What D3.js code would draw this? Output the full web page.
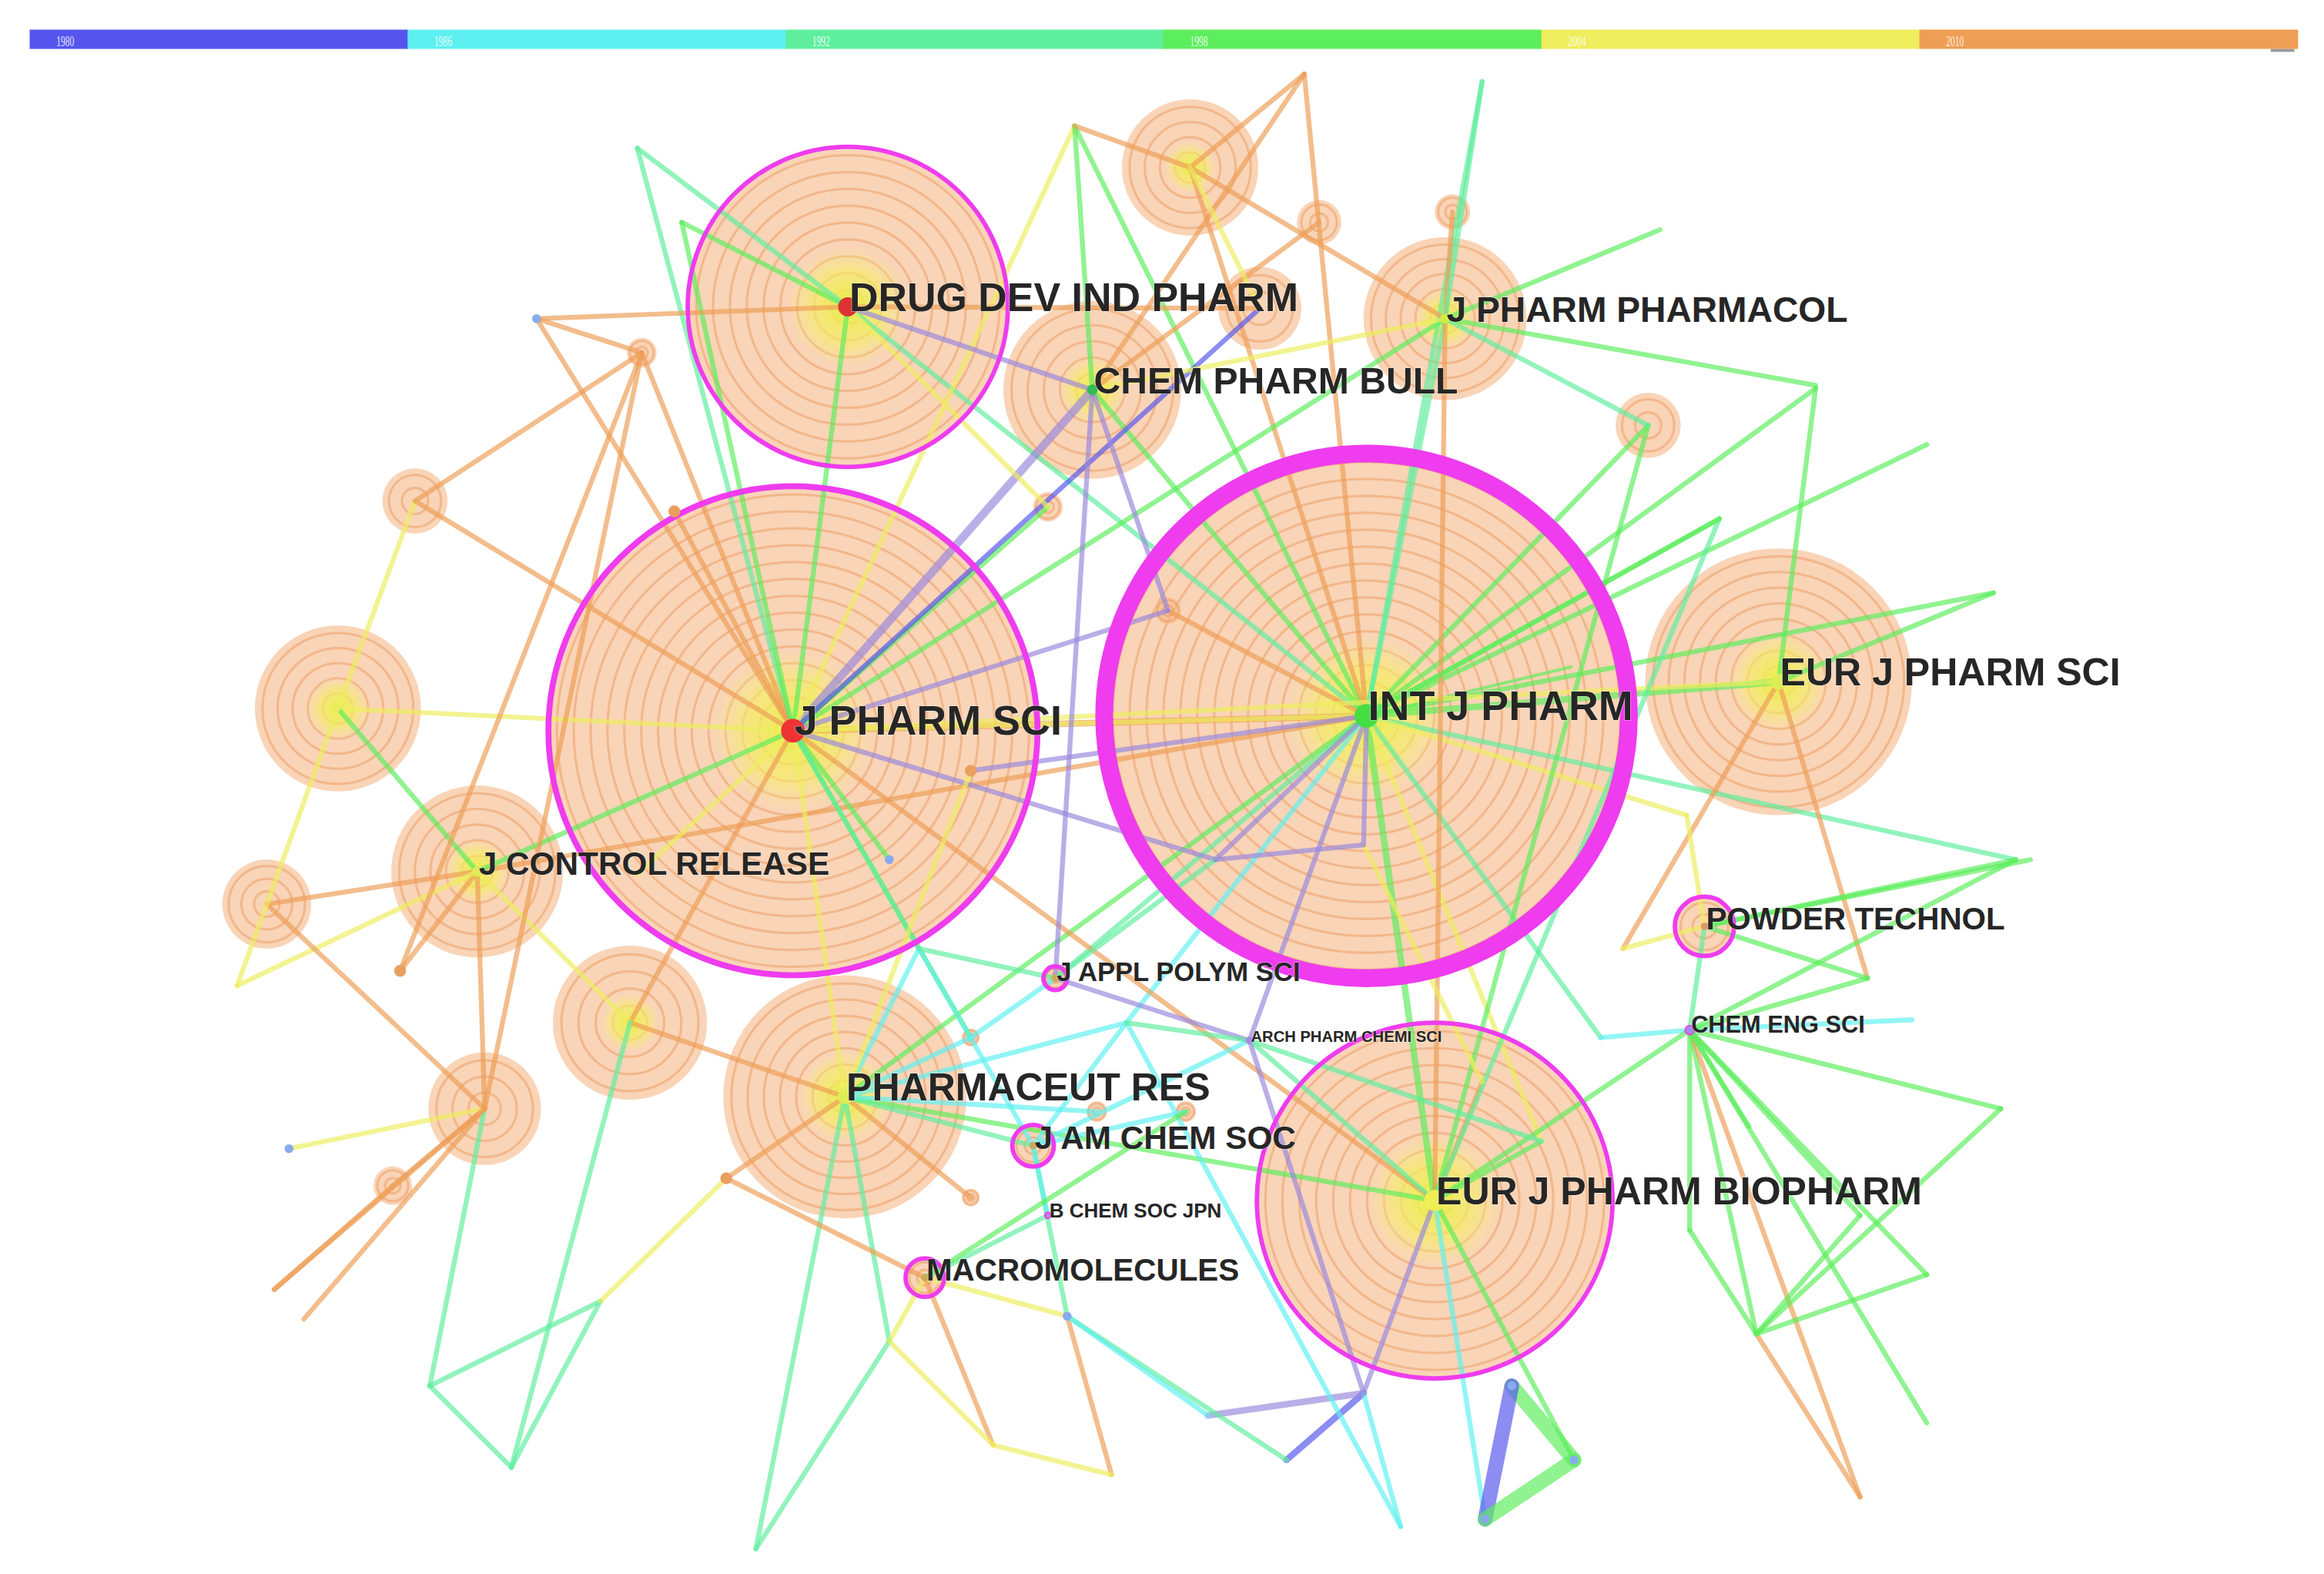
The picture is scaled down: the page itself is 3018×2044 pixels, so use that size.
<!DOCTYPE html>
<html><head><meta charset="utf-8">
<script src="https://cdn.jsdelivr.net/npm/d3@7"></script>
<style>body{margin:0;background:#fff}svg{display:block}</style>
</head><body><svg id="c" width="3018" height="2044"></svg>
<script>
const years=["1980","1986","1992","1998","2004","2010"];
const yearColors=["#5555ee","#5ef0f0","#5eee9e","#5cee5c","#eeee5e","#ee9e55"];
// labelled journals: [id,label,x,y,radius,ringWidth,fontSize,centerColor]
const journals=[
["DD","DRUG DEV IND PHARM",572,207,108,3,27,"#dd3333"],
["CP","CHEM PHARM BULL",737,263,60,0,25,"#33bb55"],
["JPP","J PHARM PHARMACOL",975,215,55,0,24,"#ccee44"],
["JPS","J PHARM SCI",535,493,165,4,28,"#ee3333"],
["IJP","INT J PHARM",922,483,177,12,28,"#44dd44"],
["EJPS","EUR J PHARM SCI",1200,460,90,0,26,"#ddee55"],
["JCR","J CONTROL RELEASE",322,588,58,0,22,"#ddee55"],
["PT","POWDER TECHNOL",1150,625,20,3,21,"#dd9966"],
["JAP","J APPL POLYM SCI",712,660,8,3,18,"#ccaa55"],
["CES","CHEM ENG SCI",1140,695,3,1,16,"#aa88ee"],
["APC","ARCH PHARM CHEMI SCI",843,702,2,0,10.5,"#aa88ee"],
["PR","PHARMACEUT RES",570,740,82,0,26,"#ddee55"],
["JAC","J AM CHEM SOC",697,773,14,3,22,"#ccaa55"],
["EJPB","EUR J PHARM BIOPHARM",968,810,120,3,26,"#eeee55"],
["BCS","B CHEM SOC JPN",707,820,2,1,13.5,"#aa88ee"],
["MAC","MACROMOLECULES",624,862,13,3,21,"#ccaa55"]];
// unlabelled nodes: [id,x,y,radius]
const others=[
["a1",430,100,0],["a2",725,85,0],["a3",880,50,0],["a4",1000,55,0],["a5",1120,155,0],["a6",1225,262,0],
["a7",1160,350,0],["a8",1345,400,0],["a9",1360,580,0],["a10",1350,748,0],["a11",1300,860,0],["a12",1255,820,0],
["a13",1185,900,0],["a14",1255,1010,0],["a15",1300,960,0],["a16",1062,985,3],["a17",1020,935,3],["a18",1002,1025,3],
["a19",945,1030,0],["a20",920,940,0],["a21",868,985,0],["a22",815,955,0],["a23",750,995,0],["a24",670,975,0],
["a25",720,888,3],["a26",600,905,0],["a27",510,1045,0],["a28",345,990,0],["a29",290,935,0],["a30",405,878,0],
["a31",205,890,0],["a32",185,870,0],["a33",160,665,0],["a34",195,775,3],["a35",362,215,3],["a36",433,238,10],
["a37",280,338,22],["a38",228,478,56],["a39",180,610,30],["a40",327,748,38],["a41",265,800,13],["a42",425,690,52],
["a43",803,113,46],["a44",890,150,15],["a45",980,143,12],["a46",850,208,28],["a47",1112,287,22],["a48",707,342,10],
["a49",788,412,9],["a50",1138,550,0],["a51",1095,640,0],["a52",1040,770,0],["a53",920,570,0],["a54",760,690,0],
["a55",655,700,6],["a56",620,640,0],["a57",430,590,0],["a58",600,580,3],["a59",820,580,0],["a60",1260,660,0],
["a61",1290,688,0],["a62",1080,700,0],["a63",1180,760,0],["a64",1140,830,0],["a65",460,150,0],["a66",270,655,4],
["a67",490,795,4],["a68",655,808,6],["a69",740,750,7],["a70",800,750,7],["a71",1060,450,0],["a72",655,520,4],
["a73",455,345,4],["a74",1000,730,0],["a75",1225,260,0],["a76",1370,580,0],["a77",1160,350,0],["a78",1300,300,0]];
// links: [source,target,colorKey,width]  colorKey: 0-5 = year colour, 6 = lilac
const links=[
["IJP","JPS",5,4],["IJP","JPS",4,3],["IJP","DD",2,3],["IJP","CP",3,3],["IJP","JPP",2,3],["IJP","EJPS",3,4],
["IJP","EJPB",3,4],["IJP","PR",3,3],["IJP","a7",3,3],["IJP","a8",3,3],["IJP","a9",2,3],["IJP","a71",3,2],
["IJP","a53",6,3],["IJP","a3",5,3],["IJP","a47",3,3],["IJP","a50",4,3],["IJP","APC",6,3],["IJP","JAP",2,3],
["IJP","a54",1,3],["IJP","a6",3,3],["IJP","a4",2,3],["IJP","a2",3,3],["IJP","a43",5,3],["IJP","a62",2,3],
["IJP","JCR",5,3],["IJP","a49",5,3],["IJP","a72",6,3],["IJP","a78",3,3],["IJP","a59",6,3],["IJP","a52",4,3],
["JPS","DD",3,3],["JPS","CP",6,5],["JPS","a1",2,3],["JPS","a35",5,3],["JPS","a36",5,3],["JPS","a37",5,3],
["JPS","a38",4,3],["JPS","JCR",3,3],["JPS","PR",4,3],["JPS","a57",4,3],["JPS","a58",3,3],["JPS","a65",3,3],
["JPS","a73",5,3],["JPS","a48",3,3],["JPS","a42",5,3],["JPS","a55",3,3],["JPS","a56",2,3],["JPS","a2",4,3],
["JPS","EJPB",5,3],["JPS","a59",6,3],["JPS","JPP",3,3],["JPS","EJPS",4,3],["JPS","a46",0,3],["JPS","a49",6,3],
["DD","CP",6,3],["DD","a65",3,3],["DD","a1",2,3],["DD","a35",5,3],["DD","a46",5,3],["DD","a48",4,3],
["CP","a2",3,3],["CP","a44",5,3],["CP","a3",5,3],["CP","JAP",6,3],["CP","a49",6,3],["CP","JPP",4,3],
["EJPS","a6",3,3],["EJPS","a8",3,3],["EJPS","a60",5,3],["EJPS","a51",5,3],
["PT","a9",3,3],["PT","a50",4,3],["PT","a60",3,3],["PT","CES",2,3],["PT","a51",4,3],["PT","a76",3,3],
["CES","a10",3,3],["CES","a11",3,3],["CES","a12",3,3],["CES","a13",3,3],["CES","a14",5,3],["CES","a15",3,3],
["CES","a61",1,3],["CES","a63",3,3],["CES","a64",3,3],["CES","a62",1,3],["CES","EJPB",3,3],["CES","a60",3,3],
["CES","a9",3,3],["a13","a14",5,3],["a13","a11",3,3],["a13","a12",3,3],["a13","a64",3,3],["a13","a10",3,3],
["EJPB","a16",3,3],["EJPB","a20",6,3],["EJPB","a52",3,3],["EJPB","JPP",5,3],["EJPB","a18",1,3],["EJPB","PR",3,3],
["EJPB","APC",2,3],["EJPB","a74",5,3],["EJPB","a47",3,3],["EJPB","a7",2,3],
["a20","a21",0,4],["a20","a22",6,4],["a20","a19",1,3],["a17","a16",3,9],["a17","a18",0,9],["a16","a18",3,9],
["a20","APC",6,3],["a19","a54",1,3],
["PR","a67",5,3],["PR","a68",5,3],["PR","JAC",2,3],["PR","a54",1,3],["PR","a26",2,3],["PR","a42",5,3],
["PR","a55",1,3],["PR","a69",1,3],["PR","a27",2,3],["PR","a56",1,3],["PR","a72",4,3],
["JAC","a25",2,3],["JAC","a70",1,3],["JAC","BCS",1,3],["JAC","APC",1,3],["JAC","a54",1,3],["JAC","a56",1,3],
["MAC","a26",4,3],["MAC","a67",5,3],["MAC","a25",4,3],["MAC","a24",5,3],["MAC","BCS",2,3],["MAC","a70",3,3],
["a25","a23",5,3],["a23","a24",4,3],["a25","a21",2,3],["a25","a22",1,3],
["JCR","a38",3,3],["JCR","a39",5,3],["JCR","a40",5,3],["JCR","a42",4,3],["JCR","a66",5,3],["JCR","a33",4,3],
["a40","a31",5,3],["a40","a29",2,3],["a40","a41",5,3],["a40","a34",4,3],["a40","a39",5,3],["a40","a32",5,3],
["a29","a28",2,3],["a30","a28",2,3],["a30","a29",2,3],["a30","a67",4,3],["a28","a42",2,3],
["a38","a37",4,3],["a38","a33",4,3],["a37","a36",5,3],["a36","a40",5,3],["a36","a35",5,3],["a36","a66",5,3],
["JPP","a45",5,3],["JPP","a5",3,3],["JPP","a4",2,3],["JPP","a43",5,3],["JPP","a47",2,3],["JPP","a75",3,3],
["a43","a2",5,3],["a43","a3",5,3],["a43","a46",4,3],
["APC","a52",2,3],["APC","JAP",6,3],["APC","a54",2,3],["JAP","a56",2,3],["JAP","a55",1,3],["JAP","a59",2,3],
["a53","a74",4,3],["a53","a59",6,3],["IJP","a77",3,3],["a41","a32",5,3],["a27","a26",2,3],["a24","a26",4,3]];

const svg=d3.select("#c");
const s=d3.scaleLinear().domain([0,1568]).range([0,3018]);
const defs=svg.append("defs");
const glow=defs.append("radialGradient").attr("id","glow");
glow.append("stop").attr("offset","0%").attr("stop-color","#e8f040").attr("stop-opacity",0.95);
glow.append("stop").attr("offset","60%").attr("stop-color","#f4f060").attr("stop-opacity",0.6);
glow.append("stop").attr("offset","100%").attr("stop-color","#f6f080").attr("stop-opacity",0);

// legend bar
const bx=d3.scaleBand().domain(years).range([s(20),s(1550)]);
const lg=svg.append("g");
lg.selectAll("rect").data(years).join("rect").attr("x",d=>bx(d)).attr("y",s(20)).attr("width",bx.bandwidth()+1)
 .attr("height",s(13)).attr("fill",(d,i)=>yearColors[i]);
lg.selectAll("text").data(years).join("text").attr("x",d=>bx(d)+s(18)).attr("y",s(31)).text(d=>d)
 .attr("font-family","Liberation Serif").attr("font-size",s(10)).attr("fill","#fff").attr("opacity",0.85)
 .attr("transform",d=>`translate(${bx(d)+s(18)},${s(31)}) scale(0.6,1) translate(${-(bx(d)+s(18))},${-s(31)})`);
lg.append("rect").attr("x",s(1532)).attr("y",s(33)).attr("width",s(16)).attr("height",s(2)).attr("fill","#999");

const nodes=new Map();
journals.forEach(j=>nodes.set(j[0],{id:j[0],label:j[1],x:j[2],y:j[3],r:j[4],ring:j[5],fs:j[6],cc:j[7]}));
others.forEach(o=>nodes.set(o[0],{id:o[0],x:o[1],y:o[2],r:o[3],ring:0}));
const all=[...nodes.values()];
const big=all.filter(n=>n.r>=6);

// node discs
const ng=svg.append("g");
big.forEach(n=>{
  const g=ng.append("g");
  g.append("circle").attr("cx",s(n.x)).attr("cy",s(n.y)).attr("r",s(n.r)).attr("fill","#f5b98a").attr("opacity",0.62);
  const nr=Math.max(2,Math.round(n.r/12));
  g.selectAll("circle.rg").data(d3.range(1,nr+1)).join("circle").attr("class","rg")
   .attr("cx",s(n.x)).attr("cy",s(n.y)).attr("r",k=>s(n.r*k/(nr+0.5))).attr("fill","none")
   .attr("stroke","#ec9a60").attr("stroke-opacity",0.5).attr("stroke-width",s(1.6));
  if(n.r>40) g.append("circle").attr("cx",s(n.x)).attr("cy",s(n.y)).attr("r",s(Math.min(55,n.r*0.38))).attr("fill","url(#glow)");
});

// links
const cols=yearColors.concat(["#9a88dd"]);
svg.append("g").selectAll("line").data(links).join("line")
 .attr("x1",d=>s(nodes.get(d[0]).x)).attr("y1",d=>s(nodes.get(d[0]).y))
 .attr("x2",d=>s(nodes.get(d[1]).x)).attr("y2",d=>s(nodes.get(d[1]).y))
 .attr("stroke",d=>cols[d[2]]).attr("stroke-width",d=>s(d[3]*1.1)).attr("stroke-opacity",0.68).attr("stroke-linecap","round");

// centres and magenta rings
const cg=svg.append("g");
all.filter(n=>n.label).forEach(n=>{
  cg.append("circle").attr("cx",s(n.x)).attr("cy",s(n.y)).attr("r",s(Math.max(2.5,Math.min(8,n.r*0.06)))).attr("fill",n.cc);
  if(n.ring>0) cg.append("circle").attr("cx",s(n.x)).attr("cy",s(n.y)).attr("r",s(n.r)).attr("fill","none")
     .attr("stroke","#ee3cee").attr("stroke-width",s(n.ring));
});
cg.selectAll("circle.sm").data(all.filter(n=>!n.label&&n.r>0&&n.r<6)).join("circle").attr("class","sm")
 .attr("cx",d=>s(d.x)).attr("cy",d=>s(d.y)).attr("r",d=>s(d.r)).attr("fill",d=>d.r>=4?"#e8a060":"#88aaee");

// labels
svg.append("g").selectAll("text").data(all.filter(n=>n.label)).join("text")
 .attr("x",d=>s(d.x+1)).attr("y",d=>s(d.y)).attr("dy","0.1em")
 .attr("font-family","Liberation Sans, Arial, sans-serif").attr("font-weight","bold")
 .attr("font-size",d=>s(d.fs)).attr("fill","#262626").attr("stroke","#fff").attr("stroke-opacity",0.35)
 .attr("stroke-width",s(1)).attr("paint-order","stroke").text(d=>d.label);
</script></body></html>
